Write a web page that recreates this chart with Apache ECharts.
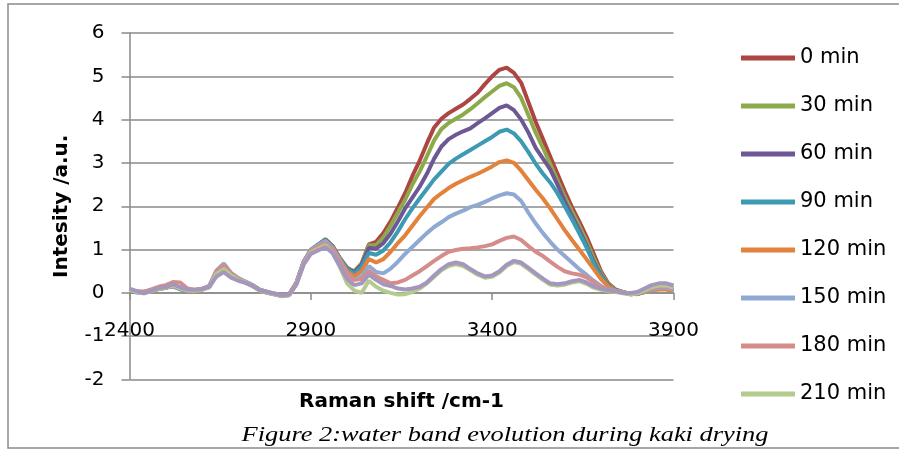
<!DOCTYPE html>
<html>
<head>
<meta charset="utf-8">
<script src="https://cdn.jsdelivr.net/npm/echarts@6/dist/echarts.min.js"></script>
<style>
  html, body { margin: 0; padding: 0; background: #ffffff; }
  #chart { width: 899px; height: 450px; }
</style>
</head>
<body>
<div id="chart"></div>
<script>
// Raman shift grid (cm-1), one point every 20 cm-1
const ramanShift = [
  2400, 2420, 2440, 2460, 2480, 2500, 2520, 2540, 2560, 2580,
  2600, 2620, 2640, 2660, 2680, 2700, 2720, 2740, 2760, 2780,
  2800, 2820, 2840, 2860, 2880, 2900, 2920, 2940, 2960, 2980,
  3000, 3020, 3040, 3060, 3080, 3100, 3120, 3140, 3160, 3180,
  3200, 3220, 3240, 3260, 3280, 3300, 3320, 3340, 3360, 3380,
  3400, 3420, 3440, 3460, 3480, 3500, 3520, 3540, 3560, 3580,
  3600, 3620, 3640, 3660, 3680, 3700, 3720, 3740, 3760, 3780,
  3800, 3820, 3840, 3860, 3880, 3900
];

const xTicks = [2400, 2900, 3400, 3900];
const yTicks = [-2, -1, 0, 1, 2, 3, 4, 5, 6];

// Intensity (a.u.) for each drying time
const min0 = [
  0.06, 0.02, 0.01, 0.06, 0.10, 0.12, 0.17, 0.10, 0.05, 0.06, 0.08, 0.15, 0.45, 0.60, 0.42, 0.32, 0.25, 0.17, 0.06, 0.00, -0.03, -0.07, -0.04, 0.22, 0.70, 0.98, 1.10,
  1.24, 1.08, 0.80, 0.58, 0.48, 0.68, 1.12, 1.18, 1.38,
  1.65, 1.97, 2.30, 2.70, 3.05, 3.45, 3.82, 4.02, 4.15, 4.25, 4.35, 4.48, 4.62, 4.82, 5.00, 5.15, 5.20,
  5.08, 4.85, 4.40, 3.95, 3.55, 3.15, 2.75, 2.35, 1.98, 1.65, 1.30, 0.90, 0.50, 0.22, 0.08, 0.02, -0.02, -0.02, 0.03, 0.08, 0.10, 0.10, 0.07
];
const min30 = [
  0.08, 0.03, 0.02, 0.05, 0.09, 0.13, 0.16, 0.09, 0.06, 0.05, 0.08, 0.14, 0.44, 0.58, 0.43, 0.31, 0.24, 0.16, 0.05, 0.01, -0.03, -0.06, -0.05, 0.20, 0.68, 0.97, 1.10,
  1.24, 1.08, 0.80, 0.56, 0.50, 0.68, 1.10, 1.10, 1.28,
  1.55, 1.85, 2.15, 2.50, 2.80, 3.15, 3.52, 3.78, 3.92, 4.02, 4.12, 4.24, 4.38, 4.52, 4.65, 4.78, 4.84,
  4.75, 4.50, 4.10, 3.70, 3.35, 2.98, 2.60, 2.22, 1.88, 1.55, 1.20, 0.80, 0.45, 0.20, 0.07, 0.02, -0.02, -0.03, 0.02, 0.07, 0.09, 0.09, 0.06
];
const min60 = [
  0.07, 0.02, 0.00, 0.06, 0.10, 0.12, 0.18, 0.10, 0.05, 0.06, 0.09, 0.15, 0.46, 0.61, 0.43, 0.32, 0.24, 0.16, 0.06, 0.01, -0.03, -0.07, -0.05, 0.22, 0.70, 0.98, 1.11,
  1.23, 1.07, 0.80, 0.56, 0.48, 0.65, 1.04, 1.02, 1.15,
  1.37, 1.65, 1.95, 2.20, 2.45, 2.75, 3.10, 3.38, 3.55, 3.65, 3.73, 3.80, 3.92, 4.03, 4.15, 4.27, 4.33,
  4.22, 4.00, 3.70, 3.35, 3.10, 2.85, 2.50, 2.12, 1.78, 1.45, 1.10, 0.72, 0.40, 0.18, 0.06, 0.01, -0.03, -0.02, 0.03, 0.08, 0.11, 0.10, 0.07
];
const min90 = [
  0.05, 0.01, 0.02, 0.05, 0.09, 0.12, 0.15, 0.08, 0.04, 0.06, 0.08, 0.16, 0.50, 0.66, 0.45, 0.33, 0.25, 0.17, 0.07, 0.02, -0.02, -0.06, -0.04, 0.23, 0.72, 1.00, 1.12,
  1.22, 1.06, 0.80, 0.55, 0.45, 0.60, 0.92, 0.88, 0.98,
  1.17, 1.42, 1.70, 1.95, 2.18, 2.40, 2.62, 2.80, 2.98, 3.10, 3.20, 3.30, 3.40, 3.50, 3.60, 3.72, 3.77,
  3.68, 3.50, 3.25, 2.98, 2.75, 2.55, 2.30, 2.00, 1.70, 1.38, 1.05, 0.68, 0.38, 0.17, 0.06, 0.01, -0.03, -0.02, 0.02, 0.07, 0.09, 0.09, 0.05
];
const min120 = [
  0.06, 0.03, 0.01, 0.04, 0.09, 0.12, 0.16, 0.09, 0.04, 0.05, 0.08, 0.14, 0.46, 0.60, 0.43, 0.31, 0.24, 0.16, 0.06, 0.01, -0.03, -0.06, -0.04, 0.21, 0.69, 0.97, 1.09,
  1.20, 1.05, 0.78, 0.50, 0.38, 0.50, 0.78, 0.70, 0.78,
  0.95, 1.15, 1.33, 1.55, 1.77, 1.97, 2.17, 2.30, 2.42, 2.52, 2.60, 2.68, 2.75, 2.83, 2.92, 3.02, 3.06,
  3.00, 2.82, 2.60, 2.38, 2.18, 1.95, 1.70, 1.45, 1.22, 1.00, 0.78, 0.55, 0.32, 0.15, 0.05, 0.01, -0.03, -0.02, 0.02, 0.06, 0.08, 0.08, 0.05
];
const min150 = [
  0.08, 0.03, 0.01, 0.05, 0.10, 0.13, 0.17, 0.09, 0.05, 0.06, 0.09, 0.16, 0.52, 0.68, 0.46, 0.34, 0.26, 0.18, 0.07, 0.02, -0.02, -0.06, -0.04, 0.23, 0.71, 0.99, 1.10,
  1.20, 1.02, 0.75, 0.45, 0.30, 0.38, 0.62, 0.48, 0.45,
  0.56, 0.72, 0.90, 1.06, 1.22, 1.38, 1.52, 1.63, 1.75, 1.83, 1.90, 1.98, 2.03, 2.10, 2.18, 2.25, 2.30,
  2.27, 2.12, 1.85, 1.60, 1.38, 1.18, 1.00, 0.85, 0.70, 0.55, 0.42, 0.28, 0.16, 0.08, 0.04, 0.01, -0.02, -0.01, 0.03, 0.08, 0.11, 0.11, 0.07
];
const min180 = [
  0.06, 0.04, 0.03, 0.08, 0.14, 0.18, 0.25, 0.24, 0.10, 0.07, 0.09, 0.15, 0.50, 0.64, 0.45, 0.33, 0.25, 0.17, 0.07, 0.02, -0.02, -0.06, -0.04, 0.23, 0.70, 0.98, 1.08,
  1.15, 0.98, 0.70, 0.42, 0.30, 0.32, 0.50, 0.38, 0.30,
  0.22, 0.24, 0.30, 0.40, 0.50, 0.62, 0.74, 0.85, 0.95, 0.99, 1.02, 1.03, 1.05, 1.08, 1.12, 1.20, 1.27,
  1.30, 1.22, 1.08, 0.95, 0.85, 0.72, 0.60, 0.50, 0.45, 0.42, 0.36, 0.25, 0.14, 0.08, 0.05, 0.01, -0.02, 0.00, 0.05, 0.11, 0.14, 0.14, 0.10
];
const min210 = [
  0.07, 0.02, -0.01, 0.04, 0.09, 0.12, 0.17, 0.11, 0.06, 0.05, 0.07, 0.13, 0.44, 0.55, 0.40, 0.30, 0.24, 0.16, 0.05, 0.00, -0.04, -0.08, -0.06, 0.20, 0.66, 0.93, 1.02,
  1.10, 0.92, 0.60, 0.22, 0.05, 0.00, 0.28, 0.14, 0.05,
  0.00, -0.04, -0.03, 0.02, 0.10, 0.22, 0.37, 0.52, 0.62, 0.66, 0.62, 0.52, 0.42, 0.35, 0.37, 0.47, 0.62,
  0.71, 0.67, 0.55, 0.42, 0.30, 0.19, 0.17, 0.19, 0.24, 0.27, 0.21, 0.12, 0.07, 0.04, 0.02, -0.01, -0.03, -0.01, 0.06, 0.13, 0.17, 0.17, 0.12
];
const min240 = [
  0.10, 0.04, -0.01, 0.05, 0.11, 0.13, 0.20, 0.13, 0.08, 0.07, 0.09, 0.14, 0.38, 0.48, 0.35, 0.28, 0.23, 0.16, 0.06, 0.02, -0.02, -0.06, -0.04, 0.19, 0.65, 0.90, 0.98,
  1.06, 0.92, 0.62, 0.32, 0.18, 0.22, 0.42, 0.30, 0.20,
  0.16, 0.10, 0.08, 0.10, 0.14, 0.24, 0.40, 0.55, 0.66, 0.70, 0.66, 0.55, 0.45, 0.38, 0.40, 0.50, 0.65,
  0.74, 0.70, 0.58, 0.45, 0.33, 0.22, 0.20, 0.22, 0.27, 0.30, 0.24, 0.15, 0.10, 0.06, 0.04, 0.00, -0.01, 0.02, 0.10, 0.18, 0.22, 0.22, 0.17
];

const seriesNames = ['0 min', '30 min', '60 min', '90 min', '120 min', '150 min', '180 min', '210 min', '240 min'];
const seriesValues = [min0, min30, min60, min90, min120, min150, min180, min210, min240];
const seriesColors = ['#AD4542', '#8DAA4B', '#6E5795', '#3C9AB3', '#E2823B', '#8FA9D3', '#D58D8C', '#B4CB8D', '#A596BE'];
const legendNames = seriesNames.slice(0, 8);

const captionText = 'Figure 2:water band evolution during kaki drying';

const axisGrey = '#8a8a8a';
const sansFont = 'DejaVu Sans';

const chart = echarts.init(document.getElementById('chart'), null, { renderer: 'canvas' });

chart.setOption({
  animation: false,
  backgroundColor: '#ffffff',
  grid: {
    left: 129.5, right: 225.5, top: 33, bottom: 70.5,
    containLabel: false,
    outerBoundsMode: 'none'
  },
  legend: {
    data: legendNames,
    orient: 'vertical',
    left: 741,
    top: 46,
    padding: 0,
    icon: 'rect',
    itemWidth: 54,
    itemHeight: 5,
    itemGap: 24,
    textStyle: { fontFamily: sansFont, fontSize: 21, lineHeight: 24, color: '#000000' }
  },
  xAxis: {
    type: 'value',
    position: 'bottom',
    min: xTicks[0],
    max: xTicks[xTicks.length - 1],
    interval: xTicks[1] - xTicks[0],
    name: 'Raman shift /cm-1',
    nameLocation: 'middle',
    nameGap: 99,
    nameTextStyle: { fontFamily: sansFont, fontWeight: 'bold', fontSize: 20, color: '#000000' },
    axisLine: { onZero: false, lineStyle: { color: axisGrey, width: 1.5 } },
    axisTick: { show: true, length: 7, lineStyle: { color: axisGrey, width: 1.5 } },
    axisLabel: {
      margin: 28, fontFamily: sansFont, fontSize: 20, color: '#000000',
      formatter: (v) => String(v)
    },
    splitLine: { show: false }
  },
  yAxis: {
    type: 'value',
    min: yTicks[0],
    max: yTicks[yTicks.length - 1],
    interval: yTicks[1] - yTicks[0],
    name: 'Intesity /a.u.',
    nameLocation: 'middle',
    nameRotate: 90,
    nameGap: 58,
    nameTextStyle: { fontFamily: sansFont, fontWeight: 'bold', fontSize: 20, color: '#000000' },
    axisLine: { show: true, onZero: false, lineStyle: { color: axisGrey, width: 1.5 } },
    axisTick: { show: true, length: 8, lineStyle: { color: axisGrey, width: 1.5 } },
    axisLabel: { margin: 25, fontFamily: sansFont, fontSize: 20, color: '#000000' },
    splitLine: { show: true, lineStyle: { color: axisGrey, width: 1.5 } }
  },
  graphic: [
    {
      type: 'rect',
      silent: true,
      shape: { x: 8, y: 4, width: 900, height: 444 },
      style: { fill: 'none', stroke: axisGrey, lineWidth: 1.5 }
    },
    {
      type: 'text',
      silent: true,
      x: 505,
      y: 446,
      scaleX: 1.2,
      style: {
        text: captionText,
        font: 'italic 22px "Liberation Serif"',
        fill: '#000000',
        textAlign: 'center',
        textVerticalAlign: 'bottom'
      }
    }
  ],
  series: seriesNames.map((name, i) => ({
    name: name,
    type: 'line',
    showSymbol: false,
    symbol: 'none',
    smooth: false,
    lineStyle: { width: 4, color: seriesColors[i] },
    itemStyle: { color: seriesColors[i] },
    data: ramanShift.map((x, j) => [x, seriesValues[i][j]])
  }))
});

// Move the horizontal axis up so that it crosses the intensity axis at zero
const zeroPx = chart.convertToPixel({ yAxisIndex: 0 }, 0);
const bottomPx = chart.convertToPixel({ yAxisIndex: 0 }, yTicks[0]);
chart.setOption({ xAxis: { offset: zeroPx - bottomPx } });
</script>
</body>
</html>
